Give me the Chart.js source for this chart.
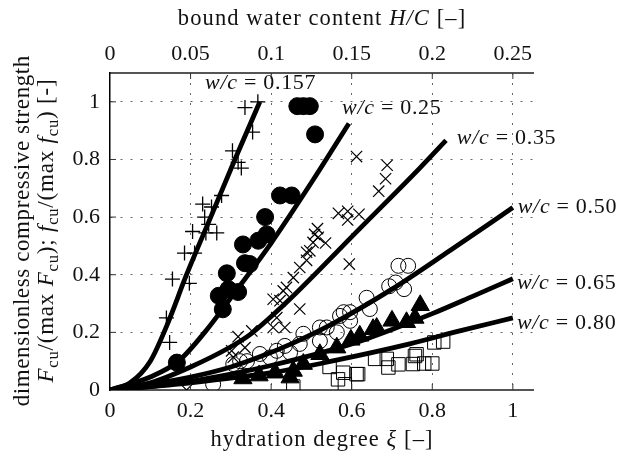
<!DOCTYPE html>
<html>
<head>
<meta charset="utf-8">
<script src="https://cdn.jsdelivr.net/npm/chart.js@4.4.0/dist/chart.umd.min.js"></script>
<style>
  html, body { margin: 0; padding: 0; background: #fff; }
  #wrap { width: 621px; height: 453px; }
</style>
</head>
<body>
<div id="wrap"><canvas id="chart" width="621" height="453"></canvas></div>
<script>
// ── ticks ──
const xiTicks = [0, 0.2, 0.4, 0.6, 0.8, 1];
const hcTicks = [0, 0.05, 0.1, 0.15, 0.2, 0.25];
const yTicks = [0, 0.2, 0.4, 0.6, 0.8, 1];

// ── model curves ──
const c157X = [0, 0.05, 0.1, 0.14, 0.19, 0.25, 0.31, 0.372];
const c157Y = [0, 0.025, 0.1, 0.22, 0.4, 0.6, 0.8, 1.0];
const c25X = [0, 0.1, 0.17, 0.235, 0.3, 0.4, 0.5, 0.593];
const c25Y = [0, 0.045, 0.1, 0.2, 0.32, 0.51, 0.72, 0.925];
const c35X = [0, 0.1, 0.2, 0.3, 0.35, 0.4, 0.45, 0.62, 0.769, 0.834];
const c35Y = [0, 0.025, 0.08, 0.15, 0.195, 0.255, 0.32, 0.56, 0.77, 0.866];
const c50X = [0, 0.1, 0.2, 0.3, 0.372, 0.45, 0.546, 0.7, 0.844, 1.0];
const c50Y = [0, 0.02, 0.045, 0.08, 0.115, 0.16, 0.225, 0.35, 0.484, 0.633];
const c65X = [0, 0.1, 0.2, 0.3, 0.4, 0.5, 0.6, 0.7, 0.8, 0.9, 1.0];
const c65Y = [0, 0.012, 0.03, 0.055, 0.085, 0.12, 0.16, 0.21, 0.265, 0.325, 0.386];
const c80X = [0, 0.2, 0.4, 0.55, 0.744, 0.868, 1.0];
const c80Y = [0, 0.025, 0.06, 0.1, 0.16, 0.205, 0.25];

// ── measurements ──
const plusX = [0.367, 0.335, 0.354, 0.304, 0.318, 0.326, 0.277, 0.23, 0.252, 0.235, 0.245, 0.205, 0.238, 0.265, 0.185, 0.21, 0.155, 0.197, 0.14, 0.148];
const plusY = [1.0, 0.98, 0.895, 0.83, 0.79, 0.77, 0.675, 0.645, 0.635, 0.6, 0.575, 0.55, 0.545, 0.545, 0.475, 0.475, 0.385, 0.37, 0.25, 0.165];

const dotX = [0.465, 0.48, 0.496, 0.509, 0.422, 0.451, 0.385, 0.389, 0.368, 0.33, 0.347, 0.335, 0.29, 0.294, 0.318, 0.27, 0.28, 0.166];
const dotY = [0.985, 0.985, 0.985, 0.887, 0.675, 0.675, 0.6, 0.54, 0.518, 0.505, 0.437, 0.44, 0.405, 0.35, 0.34, 0.327, 0.28, 0.095];

const crossX = [0.612, 0.688, 0.684, 0.667, 0.567, 0.59, 0.618, 0.59, 0.515, 0.508, 0.535, 0.504, 0.517, 0.488, 0.496, 0.488, 0.471, 0.594, 0.455, 0.438, 0.43, 0.422, 0.405, 0.471, 0.414, 0.405, 0.434, 0.352, 0.318, 0.335, 0.302, 0.306, 0.19];
const crossY = [0.81, 0.78, 0.733, 0.69, 0.613, 0.62, 0.61, 0.59, 0.56, 0.54, 0.51, 0.512, 0.53, 0.478, 0.483, 0.45, 0.425, 0.437, 0.39, 0.356, 0.344, 0.31, 0.315, 0.281, 0.251, 0.217, 0.217, 0.205, 0.185, 0.147, 0.136, 0.114, 0.0];

const ringX = [0.716, 0.74, 0.709, 0.73, 0.693, 0.637, 0.645, 0.58, 0.596, 0.571, 0.596, 0.563, 0.521, 0.538, 0.521, 0.48, 0.471, 0.434, 0.447, 0.414, 0.397, 0.372, 0.34, 0.323, 0.306, 0.256];
const ringY = [0.431, 0.431, 0.373, 0.35, 0.36, 0.32, 0.281, 0.27, 0.27, 0.257, 0.24, 0.2, 0.217, 0.217, 0.17, 0.195, 0.16, 0.153, 0.13, 0.136, 0.113, 0.125, 0.1, 0.1, 0.09, 0.02];

const triX = [0.77, 0.757, 0.736, 0.70, 0.662, 0.653, 0.62, 0.598, 0.563, 0.521, 0.48, 0.455, 0.447, 0.41, 0.37, 0.33];
const triY = [0.294, 0.25, 0.235, 0.24, 0.215, 0.211, 0.188, 0.174, 0.147, 0.124, 0.09, 0.066, 0.043, 0.06, 0.05, 0.04];

const sqX = [0.827, 0.805, 0.761, 0.757, 0.80, 0.78, 0.752, 0.716, 0.691, 0.687, 0.658, 0.612, 0.579, 0.566, 0.583, 0.455, 0.616, 0.545];
const sqY = [0.168, 0.165, 0.124, 0.118, 0.092, 0.092, 0.09, 0.089, 0.078, 0.108, 0.108, 0.055, 0.06, 0.037, 0.02, 0.012, 0.055, 0.08];

// ── curve labels ──
const wcLabels = ['0.157', '0.25', '0.35', '0.50', '0.65', '0.80'];
const wcLabelX = [0.236, 0.576, 0.861, 1.012, 1.01, 1.01];
const wcLabelY = [1.064, 0.977, 0.873, 0.633, 0.369, 0.23];

const SERIF = '"Liberation Serif", "DejaVu Serif", serif';
const pts = (xs, ys) => xs.map((x, i) => ({ x: x, y: ys[i] }));

function curve(xs, ys) {
  return {
    type: 'line', data: pts(xs, ys), borderColor: '#000', borderWidth: 4.8,
    pointRadius: 0, fill: false, cubicInterpolationMode: 'monotone', order: 0
  };
}
function marks(xs, ys, style, r, fillCol, bw) {
  return {
    type: 'scatter', data: pts(xs, ys), pointStyle: style, pointRadius: r,
    pointBackgroundColor: fillCol, pointBorderColor: '#000', pointBorderWidth: bw,
    pointHoverRadius: r, order: 1
  };
}

// rich text: segments [text, 'i' | 's' | ''], sp = extra px per character
function segFont(m, size) {
  return (m === 'i' ? 'italic ' : '') + (m === 's' ? size * 0.72 : size) + 'px ' + SERIF;
}
function richWidth(ctx, segs, size, sp) {
  let w = 0;
  segs.forEach(([t, m]) => {
    ctx.font = segFont(m, size);
    w += ctx.measureText(t).width + sp * t.length;
  });
  return w - sp;
}
function drawRich(ctx, segs, x, y, size, align, sp) {
  sp = sp || 0;
  let cx = align === 'center' ? x - richWidth(ctx, segs, size, sp) / 2 : x;
  ctx.textBaseline = 'middle';
  ctx.textAlign = 'left';
  segs.forEach(([t, m]) => {
    ctx.font = segFont(m, size);
    const yy = m === 's' ? y + size * 0.3 : y;
    for (const ch of t) {
      ctx.fillText(ch, cx, yy);
      cx += ctx.measureText(ch).width + sp;
    }
  });
}

const decor = {
  id: 'decor',
  afterDraw(chart) {
    const ctx = chart.ctx;
    const xs = chart.scales.x, ys = chart.scales.y;
    const a = chart.chartArea;
    ctx.save();
    ctx.fillStyle = '#111';
    // inward tick marks
    ctx.strokeStyle = '#333';
    ctx.lineWidth = 1;
    ctx.beginPath();
    xiTicks.slice(1).forEach(v => {
      const px = xs.getPixelForValue(v);
      ctx.moveTo(px, a.bottom); ctx.lineTo(px, a.bottom - 6);
      ctx.moveTo(px, a.top); ctx.lineTo(px, a.top + 6);
    });
    yTicks.slice(1).forEach(v => {
      const py = ys.getPixelForValue(v);
      ctx.moveTo(a.left, py); ctx.lineTo(a.left + 6, py);
    });
    ctx.stroke();

    // curve labels
    wcLabels.forEach((t, i) => {
      drawRich(ctx, [['w/c', 'i'], [' = ', ''], [t, '']],
        xs.getPixelForValue(wcLabelX[i]), ys.getPixelForValue(wcLabelY[i]), 22, 'left', 0.7);
    });

    // axis titles
    const midX = (a.left + a.right) / 2;
    drawRich(ctx, [['bound water content ', ''], ['H/C', 'i'], [' [–]', '']], midX, 19, 22.5, 'center', 1.1);
    drawRich(ctx, [['hydration degree ', ''], ['ξ', 'i'], [' [–]', '']], midX, 440, 22.5, 'center', 1.1);

    ctx.save();
    ctx.translate(23, 231);
    ctx.rotate(-Math.PI / 2);
    drawRich(ctx, [['dimensionless compressive strength', '']], 0, 0, 23, 'center', 0.6);
    ctx.restore();
    ctx.save();
    ctx.translate(47, 231);
    ctx.rotate(-Math.PI / 2);
    drawRich(ctx, [['F', 'i'], ['cu', 's'], ['/(max ', ''], ['F', 'i'], ['cu', 's'], ['); ', ''],
      ['f', 'i'], ['cu', 's'], ['/(max ', ''], ['f', 'i'], ['cu', 's'], [') [-]', '']], 0, 0, 23, 'center', 0.8);
    ctx.restore();
    ctx.restore();
  }
};

const gridColor = (c) => (c.tick && c.tick.value === 0 ? 'rgba(0,0,0,0)' : '#666');
const tickFont = { family: SERIF, size: 22 };

new Chart(document.getElementById('chart'), {
  data: {
    datasets: [
      curve(c157X, c157Y), curve(c25X, c25Y), curve(c35X, c35Y),
      curve(c50X, c50Y), curve(c65X, c65Y), curve(c80X, c80Y),
      marks(plusX, plusY, 'cross', 7.5, '#000', 1.3),
      marks(dotX, dotY, 'circle', 8.5, '#000', 1),
      marks(crossX, crossY, 'crossRot', 8, '#000', 1.2),
      marks(ringX, ringY, 'circle', 7.5, 'rgba(0,0,0,0)', 1),
      marks(triX, triY, 'triangle', 10.5, '#000', 1),
      marks(sqX, sqY, 'rect', 9.5, 'rgba(0,0,0,0)', 1)
    ]
  },
  options: {
    responsive: false,
    devicePixelRatio: 1,
    animation: false,
    layout: { padding: { left: 0, right: 88, top: 0, bottom: 0 } },
    plugins: { legend: { display: false }, tooltip: { enabled: false } },
    scales: {
      x: {
        type: 'linear', position: 'bottom', min: 0, max: 1.05,
        afterBuildTicks: s => { s.ticks = xiTicks.map(v => ({ value: v })); },
        afterFit: s => { s.height = 63; },
        ticks: { font: tickFont, color: '#111', padding: 8, maxRotation: 0, callback: v => String(v) },
        grid: { color: gridColor, lineWidth: 1, drawTicks: false },
        border: { display: true, color: '#555', width: 2, dash: [2, 8] }
      },
      x2: {
        type: 'linear', position: 'top', min: 0, max: 0.2625,
        afterBuildTicks: s => { s.ticks = hcTicks.map(v => ({ value: v })); },
        afterFit: s => { s.height = 73; },
        ticks: { font: tickFont, color: '#111', padding: 6, maxRotation: 0, callback: v => String(v) },
        grid: { display: false, drawTicks: false },
        border: { display: true, color: '#555', width: 2 }
      },
      y: {
        type: 'linear', position: 'left', min: 0, max: 1.1,
        afterBuildTicks: s => { s.ticks = yTicks.map(v => ({ value: v })); },
        afterFit: s => { s.width = 110; },
        ticks: { font: tickFont, color: '#111', padding: 10, callback: v => String(v) },
        grid: { color: gridColor, lineWidth: 1, drawTicks: false },
        border: { display: true, color: '#000', width: 1.5, dash: [2, 8] }
      }
    }
  },
  plugins: [decor]
});
</script>
</body>
</html>
